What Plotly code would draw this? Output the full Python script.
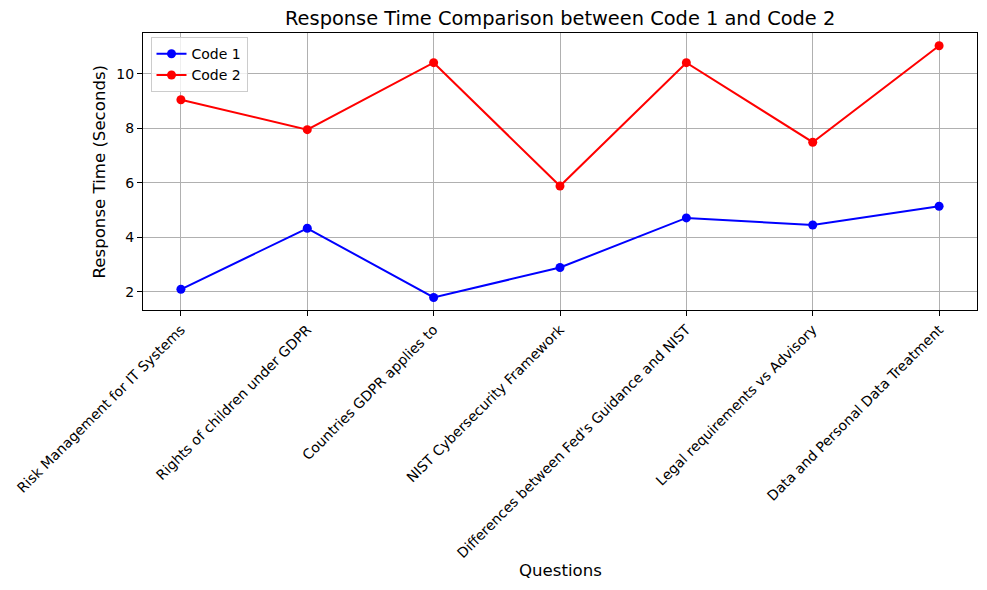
import plotly.graph_objects as go

# Preguntas y tiempos de respuesta (segundos)
questions = ['Risk Management for IT Systems',
             'Rights of children under GDPR',
             'Countries GDPR applies to',
             'NIST Cybersecurity Framework',
             "Differences between Fed's Guidance and NIST",
             'Legal requirements vs Advisory',
             'Data and Personal Data Treatment']
code1_times = [2.09, 4.33, 1.79, 2.89, 4.71, 4.45, 5.14]
code2_times = [9.05, 7.95, 10.41, 5.88, 10.41, 7.49, 11.03]

FONT = 'DejaVu Sans'

fig = go.Figure()
fig.add_trace(go.Scatter(x=questions, y=code1_times, mode='lines+markers', name='Code 1',
                         line=dict(color='blue', width=2), marker=dict(color='blue', size=9)))
fig.add_trace(go.Scatter(x=questions, y=code2_times, mode='lines+markers', name='Code 2',
                         line=dict(color='red', width=2), marker=dict(color='red', size=9)))

axis_style = dict(showline=True, linecolor='black', linewidth=1, mirror=True,
                  ticks='outside', ticklen=5, tickcolor='black',
                  showgrid=True, gridcolor='#b0b0b0', gridwidth=1, zeroline=False,
                  tickfont=dict(family=FONT, size=14, color='black'))

fig.update_xaxes(type='category', range=[-0.3, 6.3], tickangle=-45, **axis_style)
fig.update_yaxes(range=[1.33, 11.5], tickvals=[2, 4, 6, 8, 10], **axis_style)

# la página tiene un margen de 8px, se compensa en los márgenes
fig.update_layout(
    width=987, height=590,
    margin=dict(l=135, r=18, t=25, b=288, autoexpand=False),
    paper_bgcolor='white', plot_bgcolor='white',
    font=dict(family=FONT, color='black'),
    showlegend=True,
    legend=dict(x=0.009, y=0.985, xanchor='left', yanchor='top', itemwidth=30,
                bgcolor='rgba(255,255,255,0.8)', bordercolor='#cccccc', borderwidth=1,
                font=dict(family=FONT, size=14)),
    annotations=[
        dict(text='Response Time Comparison between Code 1 and Code 2', x=0.5, y=1.054,
             xref='paper', yref='paper', xanchor='center', yanchor='middle',
             showarrow=False, font=dict(family=FONT, size=19.4)),
        dict(text='Questions', x=0.5, y=-0.939, xref='paper', yref='paper',
             xanchor='center', yanchor='middle', showarrow=False,
             font=dict(family=FONT, size=16.6)),
        dict(text='Response Time (Seconds)', x=-0.0516, y=0.5, xref='paper', yref='paper',
             xanchor='center', yanchor='middle', textangle=-90, showarrow=False,
             font=dict(family=FONT, size=16.6)),
    ],
)

fig.write_html("out.html")
